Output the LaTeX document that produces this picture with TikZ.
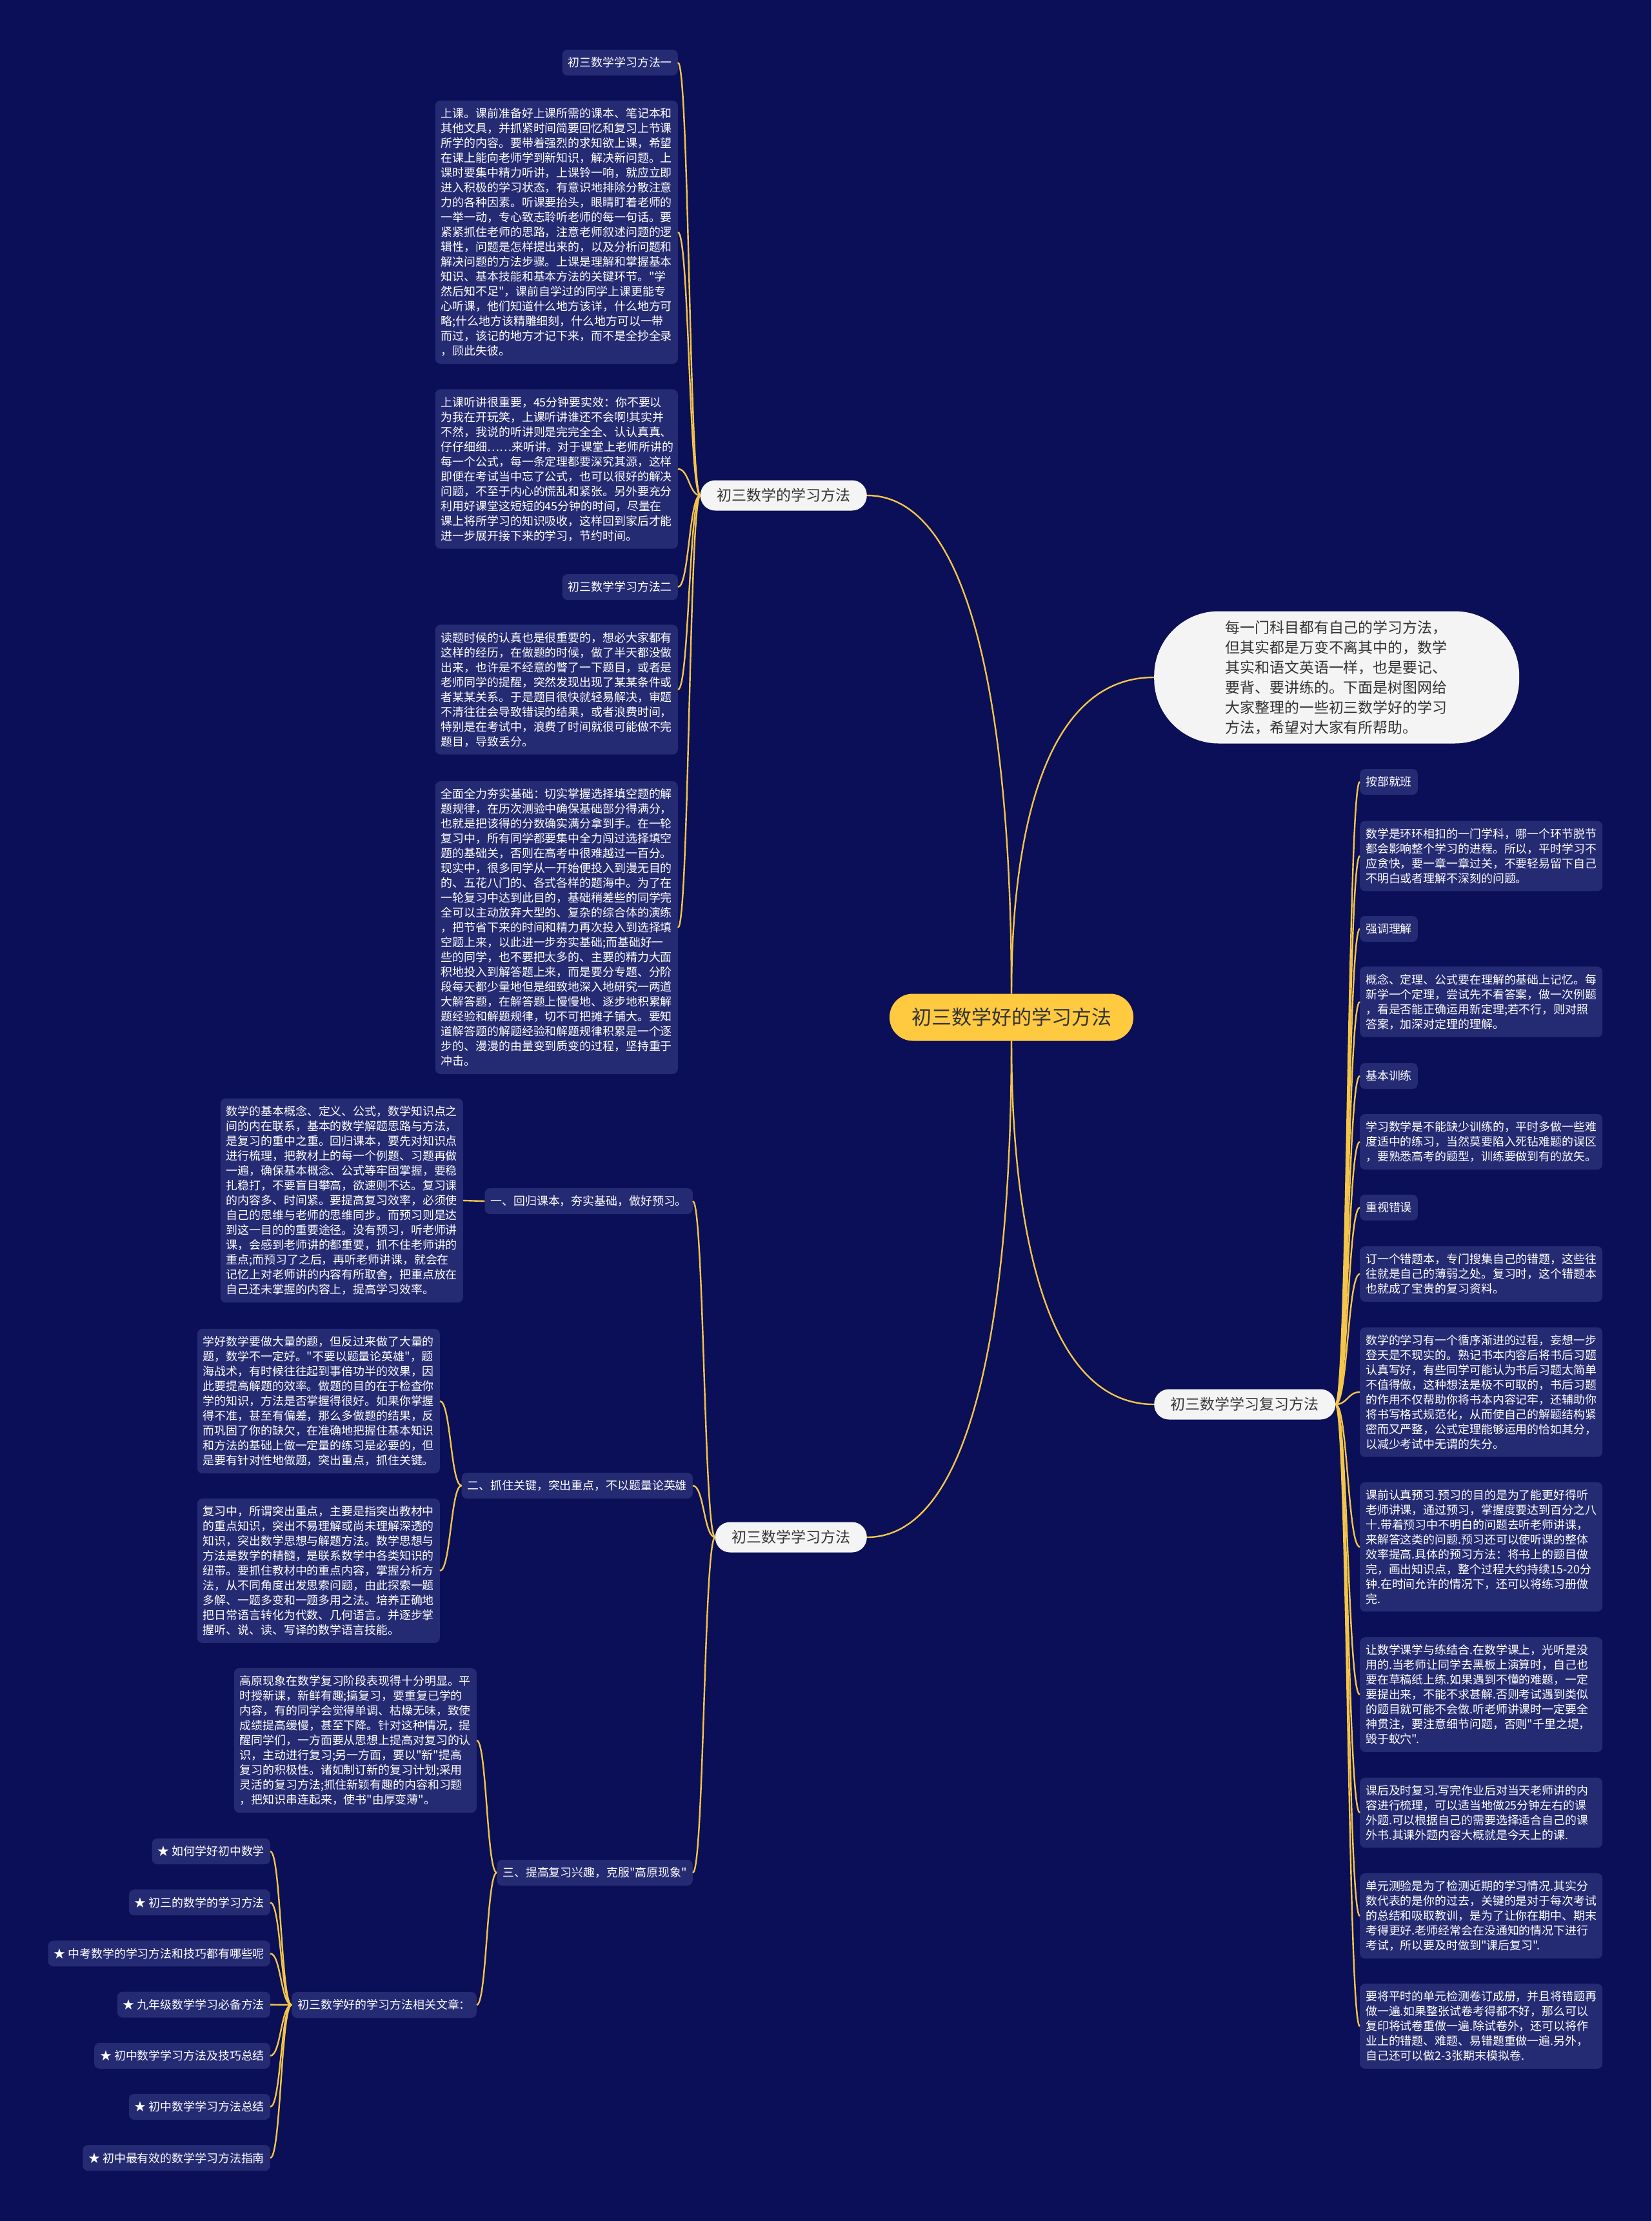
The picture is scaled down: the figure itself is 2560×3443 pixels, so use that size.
\documentclass[tikz,border=0pt]{standalone}
\usepackage{fontspec}
\newfontfamily\cjk{Noto Sans CJK SC}
\usetikzlibrary{calc}

\definecolor{bgnavy}{HTML}{0B0F57}
\definecolor{boxnavy}{HTML}{252B73}
\definecolor{linkyellow}{HTML}{F3C64A}
\definecolor{rootyellow}{HTML}{FFC940}
\definecolor{topicgray}{HTML}{F4F4F4}
\definecolor{inktext}{HTML}{333333}

\begin{document}
\begin{tikzpicture}[
    x=1pt, y=-1pt,
    link/.style={draw=linkyellow, line width=2.4pt},
    elbow/.style={to path={.. controls ($(\tikztostart)!0.5!(\tikztostart -| \tikztotarget)$)
                  and ($(\tikztotarget)!0.5!(\tikztotarget -| \tikztostart)$) .. (\tikztotarget)}},
    sweep/.style={to path={.. controls ($(\tikztostart)!0.4!(\tikztostart |- \tikztotarget)$)
                  and ($(\tikztostart |- \tikztotarget)!0.15!(\tikztotarget)$) .. (\tikztotarget)}},
    centre/.style={fill=rootyellow, text=inktext, rounded corners=36pt, minimum height=73pt,
                   inner xsep=34pt, font=\cjk\fontsize{31}{36}\selectfont},
    topic/.style={fill=topicgray, text=inktext, rounded corners=23pt, minimum height=47pt,
                  inner xsep=25.5pt, font=\cjk\fontsize{23}{28}\selectfont},
    introbox/.style={fill=topicgray, text=inktext, rounded corners=100pt, minimum width=566pt,
                     minimum height=205pt, text width=345pt, align=left,
                     font=\cjk\fontsize{22.9}{31}\selectfont},
    tagbox/.style={fill=boxnavy, text=white, rounded corners=8pt, minimum height=40pt,
                   inner xsep=9pt, font=\cjk\fontsize{17.9}{23}\selectfont},
    textbox/.style={fill=boxnavy, text=white, rounded corners=8pt, inner xsep=9pt,
                    inner ysep=11.5pt, text width=358pt, align=left,
                    font=\cjk\fontsize{17.9}{23}\selectfont}
  ]
  \useasboundingbox (0,0) rectangle (2560,3443);
  \fill[bgnavy] (0,0) rectangle (2560,3443);

  % Centre and main topics
  \node[centre] (root) at (1568,1577) {初三数学好的学习方法};
  \node[topic, anchor=east] (m1) at (1344,768) {初三数学的学习方法};
  \node[topic, anchor=east] (m2) at (1344,2383) {初三数学学习方法};
  \node[topic, anchor=west] (m3) at (1789,2177) {初三数学学习复习方法};
  \node[introbox, anchor=west] (intro) at (1789,1050)
    {每一门科目都有自己的学习方法，\\但其实都是万变不离其中的，数学\\其实和语文英语一样，也是要记、\\要背、要讲练的。下面是树图网给\\大家整理的一些初三数学好的学习\\方法，希望对大家有所帮助。};

  \draw[link] (root.north) to[sweep] (m1.east);
  \draw[link] (root.north) to[sweep] (intro.west);
  \draw[link] (root.south) to[sweep] (m2.east);
  \draw[link] (root.south) to[sweep] (m3.west);

  % 初三数学的学习方法
  \node[tagbox, anchor=east] (a0) at (1051,97) {初三数学学习方法一};
  \node[textbox, anchor=east] (a1) at (1051,360)
    {上课。课前准备好上课所需的课本、笔记本和\\其他文具，并抓紧时间简要回忆和复习上节课\\所学的内容。要带着强烈的求知欲上课，希望\\在课上能向老师学到新知识，解决新问题。上\\课时要集中精力听讲，上课铃一响，就应立即\\进入积极的学习状态，有意识地排除分散注意\\力的各种因素。听课要抬头，眼睛盯着老师的\\一举一动，专心致志聆听老师的每一句话。要\\紧紧抓住老师的思路，注意老师叙述问题的逻\\辑性，问题是怎样提出来的，以及分析问题和\\解决问题的方法步骤。上课是理解和掌握基本\\知识、基本技能和基本方法的关键环节。"学\\然后知不足"，课前自学过的同学上课更能专\\心听课，他们知道什么地方该详，什么地方可\\略;什么地方该精雕细刻，什么地方可以一带\\而过，该记的地方才记下来，而不是全抄全录\\，顾此失彼。};
  \node[textbox, anchor=east] (a2) at (1051,727)
    {上课听讲很重要，45分钟要实效：你不要以\\为我在开玩笑，上课听讲谁还不会啊!其实并\\不然，我说的听讲则是完完全全、认认真真、\\仔仔细细……来听讲。对于课堂上老师所讲的\\每一个公式，每一条定理都要深究其源，这样\\即便在考试当中忘了公式，也可以很好的解决\\问题，不至于内心的慌乱和紧张。另外要充分\\利用好课堂这短短的45分钟的时间，尽量在\\课上将所学习的知识吸收，这样回到家后才能\\进一步展开接下来的学习，节约时间。};
  \node[tagbox, anchor=east] (a3) at (1051,910) {初三数学学习方法二};
  \node[textbox, anchor=east] (a4) at (1051,1069)
    {读题时候的认真也是很重要的，想必大家都有\\这样的经历，在做题的时候，做了半天都没做\\出来，也许是不经意的瞥了一下题目，或者是\\老师同学的提醒，突然发现出现了某某条件或\\者某某关系。于是题目很快就轻易解决，审题\\不清往往会导致错误的结果，或者浪费时间，\\特别是在考试中，浪费了时间就很可能做不完\\题目，导致丢分。};
  \node[textbox, anchor=east] (a5) at (1051,1438)
    {全面全力夯实基础：切实掌握选择填空题的解\\题规律，在历次测验中确保基础部分得满分，\\也就是把该得的分数确实满分拿到手。在一轮\\复习中，所有同学都要集中全力闯过选择填空\\题的基础关，否则在高考中很难越过一百分。\\现实中，很多同学从一开始便投入到漫无目的\\的、五花八门的、各式各样的题海中。为了在\\一轮复习中达到此目的，基础稍差些的同学完\\全可以主动放弃大型的、复杂的综合体的演练\\，把节省下来的时间和精力再次投入到选择填\\空题上来，以此进一步夯实基础;而基础好一\\些的同学，也不要把太多的、主要的精力大面\\积地投入到解答题上来，而是要分专题、分阶\\段每天都少量地但是细致地深入地研究一两道\\大解答题，在解答题上慢慢地、逐步地积累解\\题经验和解题规律，切不可把摊子铺大。要知\\道解答题的解题经验和解题规律积累是一个逐\\步的、漫漫的由量变到质变的过程，坚持重于\\冲击。};
  \foreach \c in {a0,a1,a2,a3,a4,a5}
    \draw[link] (m1.west) to[elbow] (\c.east);

  % 初三数学学习方法
  \node[tagbox, anchor=east] (s1) at (1074,1862) {一、回归课本，夯实基础，做好预习。};
  \node[textbox, anchor=east] (s1a) at (718,1861)
    {数学的基本概念、定义、公式，数学知识点之\\间的内在联系，基本的数学解题思路与方法，\\是复习的重中之重。回归课本，要先对知识点\\进行梳理，把教材上的每一个例题、习题再做\\一遍，确保基本概念、公式等牢固掌握，要稳\\扎稳打，不要盲目攀高，欲速则不达。复习课\\的内容多、时间紧。要提高复习效率，必须使\\自己的思维与老师的思维同步。而预习则是达\\到这一目的的重要途径。没有预习，听老师讲\\课，会感到老师讲的都重要，抓不住老师讲的\\重点;而预习了之后，再听老师讲课，就会在\\记忆上对老师讲的内容有所取舍，把重点放在\\自己还未掌握的内容上，提高学习效率。};
  \node[tagbox, anchor=east] (s2) at (1074,2303) {二、抓住关键，突出重点，不以题量论英雄};
  \node[textbox, anchor=east] (s2a) at (682,2172)
    {学好数学要做大量的题，但反过来做了大量的\\题，数学不一定好。"不要以题量论英雄"，题\\海战术，有时候往往起到事倍功半的效果，因\\此要提高解题的效率。做题的目的在于检查你\\学的知识，方法是否掌握得很好。如果你掌握\\得不准，甚至有偏差，那么多做题的结果，反\\而巩固了你的缺欠，在准确地把握住基本知识\\和方法的基础上做一定量的练习是必要的，但\\是要有针对性地做题，突出重点，抓住关键。};
  \node[textbox, anchor=east] (s2b) at (682,2435)
    {复习中，所谓突出重点，主要是指突出教材中\\的重点知识，突出不易理解或尚未理解深透的\\知识，突出数学思想与解题方法。数学思想与\\方法是数学的精髓，是联系数学中各类知识的\\纽带。要抓住教材中的重点内容，掌握分析方\\法，从不同角度出发思索问题，由此探索一题\\多解、一题多变和一题多用之法。培养正确地\\把日常语言转化为代数、几何语言。并逐步掌\\握听、说、读、写译的数学语言技能。};
  \node[tagbox, anchor=east] (s3) at (1074,2903) {三、提高复习兴趣，克服"高原现象"};
  \node[textbox, anchor=east] (s3a) at (739,2698)
    {高原现象在数学复习阶段表现得十分明显。平\\时授新课，新鲜有趣;搞复习，要重复已学的\\内容，有的同学会觉得单调、枯燥无味，致使\\成绩提高缓慢，甚至下降。针对这种情况，提\\醒同学们，一方面要从思想上提高对复习的认\\识，主动进行复习;另一方面，要以"新"提高\\复习的积极性。诸如制订新的复习计划;采用\\灵活的复习方法;抓住新颖有趣的内容和习题\\，把知识串连起来，使书"由厚变薄"。};
  \node[tagbox, anchor=east] (rel) at (739,3108) {初三数学好的学习方法相关文章：};
  \foreach \t [count=\i from 0] in {如何学好初中数学, 初三的数学的学习方法,
      中考数学的学习方法和技巧都有哪些呢, 九年级数学学习必备方法,
      初中数学学习方法及技巧总结, 初中数学学习方法总结, 初中最有效的数学学习方法指南}
    \node[tagbox, anchor=east] (st\i) at (419,{2870+79.2*\i}) {★ \t};

  \foreach \c in {s1,s2,s3}
    \draw[link] (m2.west) to[elbow] (\c.east);
  \draw[link] (s1.west) to[elbow] (s1a.east);
  \foreach \c in {s2a,s2b}
    \draw[link] (s2.west) to[elbow] (\c.east);
  \foreach \c in {s3a,rel}
    \draw[link] (s3.west) to[elbow] (\c.east);
  \foreach \i in {0,...,6}
    \draw[link] (rel.west) to[elbow] (st\i.east);

  % 初三数学学习复习方法
  \node[tagbox, anchor=west] (r1) at (2108,1212) {按部就班};
  \node[textbox, anchor=west] (r2) at (2108,1327)
    {数学是环环相扣的一门学科，哪一个环节脱节\\都会影响整个学习的进程。所以，平时学习不\\应贪快，要一章一章过关，不要轻易留下自己\\不明白或者理解不深刻的问题。};
  \node[tagbox, anchor=west] (r3) at (2108,1440) {强调理解};
  \node[textbox, anchor=west] (r4) at (2108,1553)
    {概念、定理、公式要在理解的基础上记忆。每\\新学一个定理，尝试先不看答案，做一次例题\\，看是否能正确运用新定理;若不行，则对照\\答案，加深对定理的理解。};
  \node[tagbox, anchor=west] (r5) at (2108,1668) {基本训练};
  \node[textbox, anchor=west] (r6) at (2108,1770)
    {学习数学是不能缺少训练的，平时多做一些难\\度适中的练习，当然莫要陷入死钻难题的误区\\，要熟悉高考的题型，训练要做到有的放矢。};
  \node[tagbox, anchor=west] (r7) at (2108,1872) {重视错误};
  \node[textbox, anchor=west] (r8) at (2108,1975)
    {订一个错题本，专门搜集自己的错题，这些往\\往就是自己的薄弱之处。复习时，这个错题本\\也就成了宝贵的复习资料。};
  \node[textbox, anchor=west] (r9) at (2108,2158)
    {数学的学习有一个循序渐进的过程，妄想一步\\登天是不现实的。熟记书本内容后将书后习题\\认真写好，有些同学可能认为书后习题太简单\\不值得做，这种想法是极不可取的，书后习题\\的作用不仅帮助你将书本内容记牢，还辅助你\\将书写格式规范化，从而使自己的解题结构紧\\密而又严整，公式定理能够运用的恰如其分，\\以减少考试中无谓的失分。};
  \node[textbox, anchor=west] (r10) at (2108,2398)
    {课前认真预习.预习的目的是为了能更好得听\\老师讲课，通过预习，掌握度要达到百分之八\\十.带着预习中不明白的问题去听老师讲课，\\来解答这类的问题.预习还可以使听课的整体\\效率提高.具体的预习方法：将书上的题目做\\完，画出知识点，整个过程大约持续15-20分\\钟.在时间允许的情况下，还可以将练习册做\\完.};
  \node[textbox, anchor=west] (r11) at (2108,2627)
    {让数学课学与练结合.在数学课上，光听是没\\用的.当老师让同学去黑板上演算时，自己也\\要在草稿纸上练.如果遇到不懂的难题，一定\\要提出来，不能不求甚解.否则考试遇到类似\\的题目就可能不会做.听老师讲课时一定要全\\神贯注，要注意细节问题，否则"千里之堤，\\毁于蚁穴".};
  \node[textbox, anchor=west] (r12) at (2108,2810)
    {课后及时复习.写完作业后对当天老师讲的内\\容进行梳理，可以适当地做25分钟左右的课\\外题.可以根据自己的需要选择适合自己的课\\外书.其课外题内容大概就是今天上的课.};
  \node[textbox, anchor=west] (r13) at (2108,2970)
    {单元测验是为了检测近期的学习情况.其实分\\数代表的是你的过去，关键的是对于每次考试\\的总结和吸取教训，是为了让你在期中、期末\\考得更好.老师经常会在没通知的情况下进行\\考试，所以要及时做到"课后复习".};
  \node[textbox, anchor=west] (r14) at (2108,3141)
    {要将平时的单元检测卷订成册，并且将错题再\\做一遍.如果整张试卷考得都不好，那么可以\\复印将试卷重做一遍.除试卷外，还可以将作\\业上的错题、难题、易错题重做一遍.另外，\\自己还可以做2-3张期末模拟卷.};
  \foreach \c in {r1,r2,r3,r4,r5,r6,r7,r8,r9,r10,r11,r12,r13,r14}
    \draw[link] (m3.east) to[elbow] (\c.west);
\end{tikzpicture}
\end{document}
